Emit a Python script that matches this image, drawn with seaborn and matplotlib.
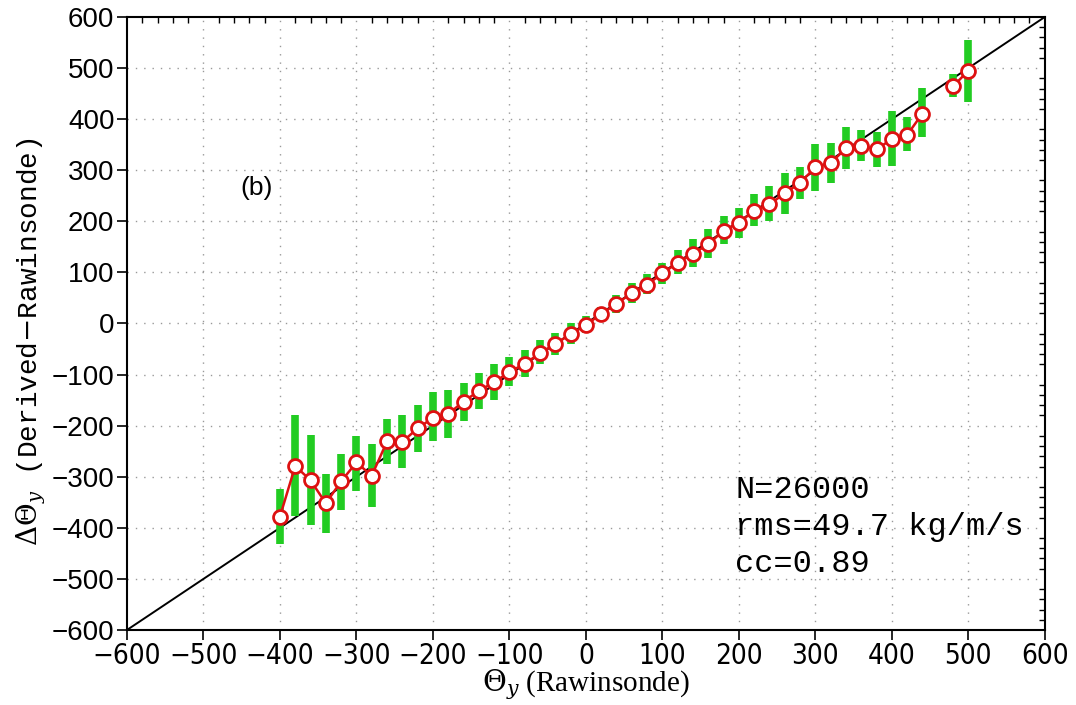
import numpy as np
import pandas as pd
import matplotlib
matplotlib.use("Agg")
import matplotlib.pyplot as plt
import seaborn as sns
from matplotlib.ticker import MultipleLocator

# ---- data ----
x_bins = [-400, -380, -360, -340, -320, -300, -280, -260, -240, -220, -200,
          -180, -160, -140, -120, -100, -80, -60, -40, -20, 0, 20, 40, 60, 80,
          100, 120, 140, 160, 180, 200, 220, 240, 260, 280, 300, 320, 340, 360,
          380, 400, 420, 440, 460, 480, 500]
mean_vals = [-378, -279, -307, -352, -309, -272, -298, -231, -232, -205, -185,
             -177, -153, -132, -115, -95, -79, -58, -40, -21, -3, 19, 38, 60, 76,
             98, 119, 137, 155, 182, 197, 221, 233, 255, 275, 306, 314, 343, 348,
             341, 361, 369, 411, np.nan, 464, 495]
low_vals = [-431, -377, -395, -410, -365, -327, -360, -276, -283, -252, -231,
            -224, -190, -168, -150, -123, -104, -80, -61, -40, -19, 5, 20, 41, 58,
            78, 97, 111, 128, 155, 167, 190, 200, 215, 243, 260, 275, 302, 318,
            307, 308, 337, 365, np.nan, 443, 434]
high_vals = [-324, -180, -218, -294, -255, -220, -236, -187, -180, -159, -135,
             -130, -116, -97, -79, -65, -52, -33, -18, 1, 15, 33, 55, 80, 97,
             119, 143, 166, 185, 211, 227, 253, 269, 294, 307, 352, 354, 385, 379,
             374, 415, 404, 461, np.nan, 488, 554]
axis_ticks = [-600, -500, -400, -300, -200, -100, 0, 100, 200, 300, 400, 500, 600]
stats_text = ["N=26000", "rms=49.7 kg/m/s", "cc=0.89"]
panel_label = "(b)"

df = pd.DataFrame({"x": x_bins, "y": mean_vals, "lo": low_vals, "hi": high_vals})
# segment id so the line breaks where a bin is missing
df["seg"] = df["y"].isna().cumsum()
dfl = df.dropna()

sns.set_style("ticks")
plt.rcParams["font.family"] = ["Liberation Sans", "DejaVu Sans"]
plt.rcParams["mathtext.fontset"] = "dejavuserif"
plt.rcParams["text.color"] = "black"
plt.rcParams["axes.labelcolor"] = "black"
plt.rcParams["xtick.color"] = "black"
plt.rcParams["ytick.color"] = "black"

fig = plt.figure(figsize=(10.76, 7.05), dpi=100)
ax = fig.add_axes([0.118, 0.1064, 0.853, 0.8695])

# grid
for t in axis_ticks[1:-1]:
    ax.axvline(t, color="#999999", lw=1.0, ls=(0, (1, 5)), zorder=0)
    ax.axhline(t, color="#999999", lw=1.0, ls=(0, (1, 5)), zorder=0)

# 1:1 line
ax.axline((0, 0), slope=1, color="black", lw=1.4, zorder=2)

# green spread bars
ax.vlines(dfl["x"], dfl["lo"], dfl["hi"], color="#22cc22", lw=5.5, zorder=3)

# red line with open circles
sns.lineplot(data=dfl, x="x", y="y", units="seg", estimator=None, ax=ax,
             color="#dd1111", lw=1.8, marker="o", markersize=10,
             markerfacecolor="white", markeredgecolor="#dd1111",
             markeredgewidth=2.0, zorder=4, legend=False)

ax.set_xlim(-600, 600)
ax.set_ylim(-600, 600)
ax.set_xticks(axis_ticks)
ax.set_yticks(axis_ticks)
ax.set_xticklabels([str(t).replace("-", "\u2212") for t in axis_ticks],
                   fontsize=20, family=["DejaVu Sans"], fontstretch="condensed")
ax.set_yticklabels([str(t).replace("-", "\u2212") for t in axis_ticks],
                   fontsize=20)
ax.xaxis.set_minor_locator(MultipleLocator(20))
ax.yaxis.set_minor_locator(MultipleLocator(20))
ax.tick_params(which="major", direction="out", length=7, width=1.2,
               top=False, right=False, pad=2)
ax.tick_params(which="minor", direction="in", length=4, width=1.0,
               bottom=False, left=False, top=True, right=True)
for s in ax.spines.values():
    s.set_linewidth(1.5)
    s.set_color("black")

ax.set_xlabel(r"$\Theta_y$ (Rawinsonde)", fontsize=21,
              family=["Liberation Serif", "DejaVu Serif"], labelpad=-2)
ax.set_ylabel(r"$\Delta\Theta_y$ (Derived$-$Rawinsonde)", fontsize=20,
              family=["Liberation Mono", "DejaVu Sans Mono"])
ax.yaxis.set_label_coords(-0.086, 0.47)

ax.text(-430, 265, panel_label, fontsize=19, ha="center", va="center")
for i, s in enumerate(stats_text):
    ax.text(195, -326 - 72 * i, s, fontsize=23, ha="left", va="center",
            family=["Liberation Mono", "DejaVu Sans Mono"])

fig.savefig("out.png", dpi=100)
